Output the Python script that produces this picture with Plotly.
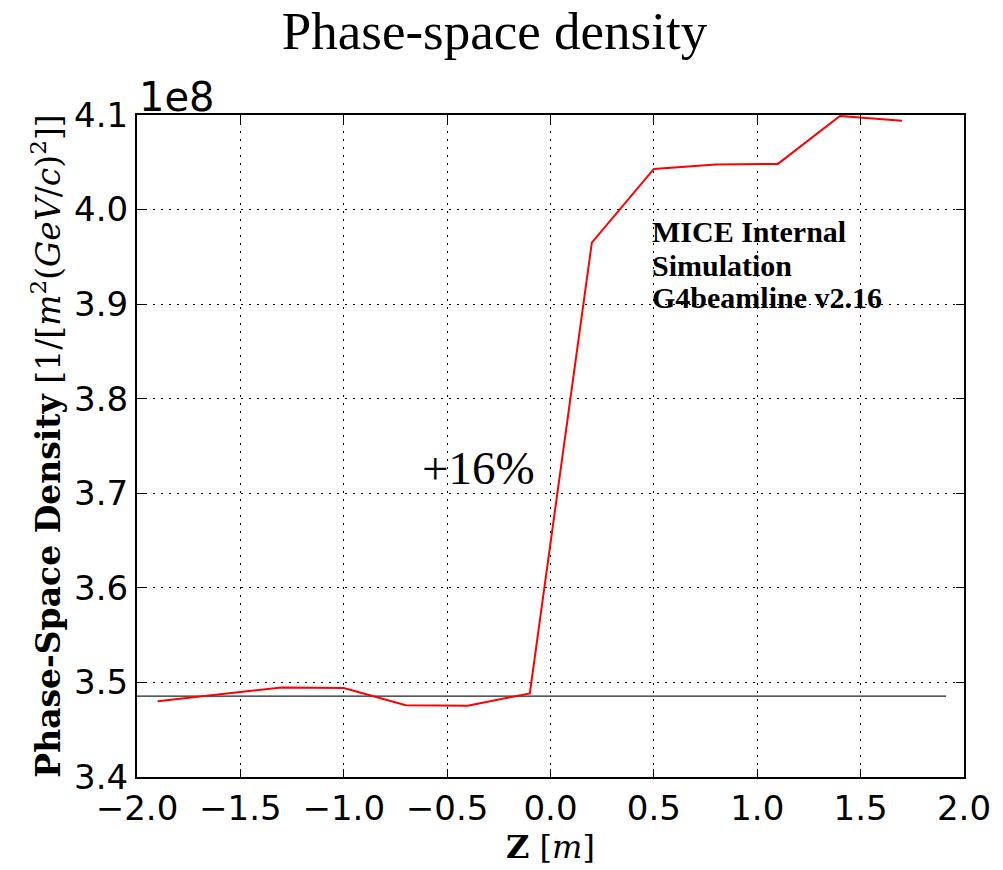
import plotly.graph_objects as go

# Data (phase-space density in units of 1e8 per m^2 (GeV/c)^2)
z_m = [-1.9, -1.3, -1.0, -0.7, -0.4, -0.1, 0.2, 0.5, 0.8, 1.1, 1.4, 1.7]
density_1e8 = [3.480, 3.4947, 3.494, 3.476, 3.4754, 3.4884, 3.965, 4.043, 4.0476, 4.0483, 4.099, 4.094]
ref_line_x = [-2.0, 1.913]
ref_line_y = [3.4855, 3.4855]
x_ticks = [-2.0, -1.5, -1.0, -0.5, 0.0, 0.5, 1.0, 1.5, 2.0]
x_ticklabels = ["\u22122.0", "\u22121.5", "\u22121.0", "\u22120.5", "0.0", "0.5", "1.0", "1.5", "2.0"]
y_ticks = [3.4, 3.5, 3.6, 3.7, 3.8, 3.9, 4.0, 4.1]
y_ticklabels = ["3.4", "3.5", "3.6", "3.7", "3.8", "3.9", "4.0", "4.1"]

fig = go.Figure()
fig.add_trace(go.Scatter(x=ref_line_x, y=ref_line_y, mode="lines",
                         line=dict(color="#222222", width=1.2), showlegend=False))
fig.add_trace(go.Scatter(x=z_m, y=density_1e8, mode="lines",
                         line=dict(color="#ff0000", width=2), showlegend=False))

serif = "Liberation Serif"
dserif = "DejaVu Serif"
sans = "DejaVu Sans"

axis_common = dict(
    showline=True, linecolor="black", linewidth=2, mirror="allticks",
    ticks="inside", ticklen=8, tickwidth=1, tickcolor="black",
    showgrid=True, gridcolor="black", gridwidth=1, griddash="2px,6px",
    zeroline=False, tickfont=dict(family=sans, size=34, color="black"),
)

fig.update_xaxes(range=[-2.0, 2.0], tickvals=x_ticks, ticktext=x_ticklabels,
                 title=dict(text="<b>Z</b> [<i>m</i>]", font=dict(family=dserif, size=32, color="black"), standoff=8),
                 **axis_common)
fig.update_yaxes(range=[3.4, 4.1], tickvals=y_ticks, ticktext=y_ticklabels,
                 title=dict(text="<b>Phase-Space Density</b> [1/[<i>m</i><sup>2</sup>(<i>GeV</i>/<i>c</i>)<sup>2</sup>]]",
                            font=dict(family=dserif, size=33, color="black"), standoff=4),
                 **axis_common)

fig.add_annotation(x=0, y=1, xref="paper", yref="paper", xanchor="left", yanchor="bottom",
                   text="1e8", showarrow=False, font=dict(family=sans, size=40, color="black"), yshift=-7)
fig.add_annotation(x=-0.346, y=3.727, text="+16%", showarrow=False,
                   font=dict(family=serif, size=47, color="black"))
for txt, yv in [("MICE Internal", 3.9767), ("Simulation", 3.9408), ("G4beamline v2.16", 3.907)]:
    fig.add_annotation(x=0.481, y=yv, text="<b>" + txt + "</b>", showarrow=False, xanchor="left",
                       yanchor="middle", font=dict(family=serif, size=30, color="black"))

fig.update_layout(
    width=1003, height=870,
    margin=dict(l=137, r=35, t=115, b=93),
    paper_bgcolor="white", plot_bgcolor="white",
    title=dict(text="Phase-space density", x=0.493, xanchor="center", y=0.965, yanchor="middle",
               font=dict(family=serif, size=53, color="black")),
)

fig.write_html("out.html")
